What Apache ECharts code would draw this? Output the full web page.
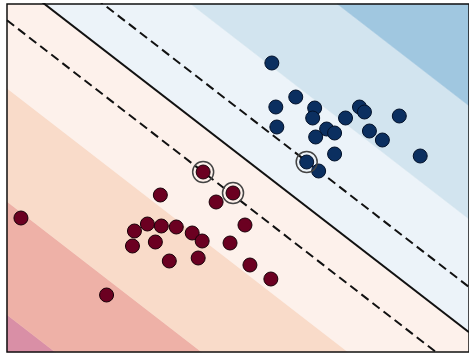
<!DOCTYPE html>
<html><head><meta charset="utf-8">
<script src="https://cdn.jsdelivr.net/npm/echarts@6/dist/echarts.min.js"></script>
<style>html,body{margin:0;padding:0;background:#fff}#c{width:469px;height:356px}</style>
</head><body><div id="c"></div>
<script>
// Class 0 (red) samples
const classRed = [[197,180],[227,159],[210,150],[154,157],[14,134],[141,128],[155,126],[170,125],[128,121],[186,119],[196,111],[149,110],[126,106],[224,109],[239,127],[163,91],[192,94],[244,87],[265,73],[100,57]];
// Class 1 (blue) samples
const classBlue = [[266,289],[290,255],[270,245],[309,244],[307,234],[271,225],[321,223],[329,219],[310,215],[340,234],[354,245],[359,240],[394,236],[364,221],[377,212],[329,198],[415,196],[301,190],[313,181]];
// Support vectors
const supportVectors = [[197,180],[227,159],[301,190]];
// Linear decision function f = w0*x + w1*y + b
const weights = [0.016998, 0.022075];
const intercept = -8.3223;
const contourLevels = [-10, -7.5, -5, -2.5, 0, 2.5, 5, 7.5];
const bandColors = ['#d98fa6', '#eeb1a7', '#f9dbc9', '#fdf1eb', '#ecf3f9', '#d2e4ef', '#a0c7e0'];
const marginLevels = [-1, 0, 1];
const marginStyles = ['dashed', 'solid', 'dashed'];
const xRange = [0, 464];
const yRange = [0, 348];

function f(x, y) { return weights[0] * x + weights[1] * y + intercept; }
function clipPoly(poly, sign, level) {
  const out = [];
  for (let i = 0; i < poly.length; i++) {
    const a = poly[i], b = poly[(i + 1) % poly.length];
    const da = sign * (f(a[0], a[1]) - level), db = sign * (f(b[0], b[1]) - level);
    if (da >= 0) out.push(a);
    if ((da >= 0) !== (db >= 0)) {
      const t = da / (da - db);
      out.push([a[0] + t * (b[0] - a[0]), a[1] + t * (b[1] - a[1])]);
    }
  }
  return out;
}

const chart = echarts.init(document.getElementById('c'), null, {renderer: 'canvas'});
const series = [];
series.push({
  type: 'custom', coordinateSystem: 'cartesian2d', z: 1, silent: true,
  data: bandColors.map((c, i) => [i, 0]),
  renderItem(params, api) {
    const i = api.value(0);
    let poly = [[xRange[0], yRange[0]], [xRange[1], yRange[0]], [xRange[1], yRange[1]], [xRange[0], yRange[1]]];
    poly = clipPoly(poly, 1, contourLevels[i]);
    poly = clipPoly(poly, -1, contourLevels[i + 1]);
    if (poly.length < 3) return;
    return {type: 'polygon', shape: {points: poly.map(p => api.coord(p))}, style: {fill: bandColors[i], stroke: bandColors[i], lineWidth: 0.5}};
  }
});
marginLevels.forEach((L, k) => {
  series.push({
    type: 'line', z: 3, silent: true, symbol: 'none', clip: true,
    data: xRange.map(x => [x, (L - intercept - weights[0] * x) / weights[1]]),
    lineStyle: {color: '#111', width: 2, type: marginStyles[k] === 'dashed' ? [9, 5] : 'solid'}
  });
});
series.push({
  type: 'scatter', z: 5, data: classRed, symbolSize: 14,
  itemStyle: {color: '#6b0021', borderColor: '#1a0008', borderWidth: 1, opacity: 1}
});
series.push({
  type: 'scatter', z: 5, data: classBlue, symbolSize: 14,
  itemStyle: {color: '#0b2f60', borderColor: '#02112a', borderWidth: 1, opacity: 1}
});
series.push({
  type: 'scatter', z: 6, data: supportVectors, symbolSize: 21,
  itemStyle: {color: 'rgba(0,0,0,0)', borderColor: '#444', borderWidth: 1.5, opacity: 1}
});

chart.setOption({
  animation: false,
  backgroundColor: '#fff',
  grid: {left: 7, right: -2, top: 4, bottom: 4, show: true, borderColor: '#111', borderWidth: 1.5, backgroundColor: 'transparent', z: 10},
  xAxis: {type: 'value', min: xRange[0], max: xRange[1], show: false, splitLine: {show: false}},
  yAxis: {type: 'value', min: yRange[0], max: yRange[1], show: false, splitLine: {show: false}},
  series
});
</script>
</body></html>
